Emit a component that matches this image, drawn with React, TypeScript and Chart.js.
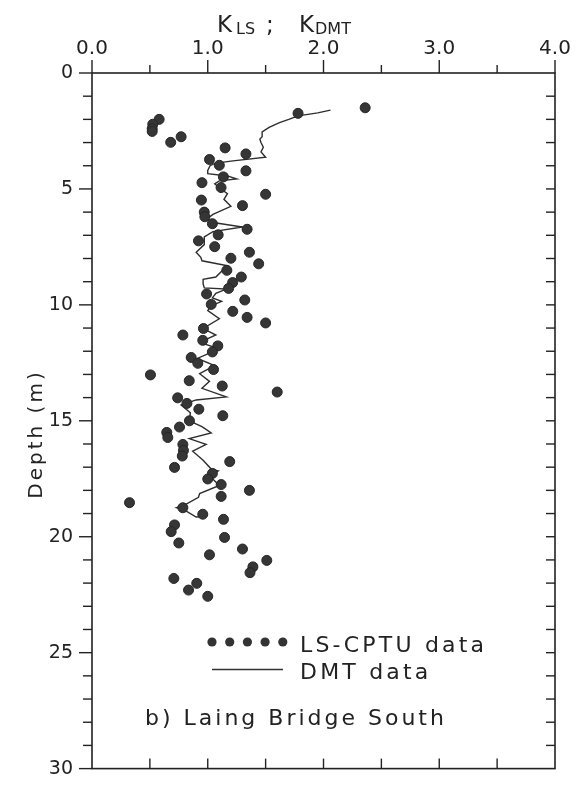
import React, { useEffect, useRef } from 'react';
import { Chart, registerables } from 'chart.js';

Chart.register(...registerables);

// LS-CPTU data: K_LS values and depths (m)
const cptuK = [
  2.36, 1.78, 0.58, 0.525, 0.52, 0.52, 0.77, 0.68, 1.15, 1.33,
  1.015, 1.10, 1.33, 1.135, 0.95, 1.115, 1.50, 0.945, 1.30, 0.97,
  0.975, 1.04, 1.34, 1.09, 0.92, 1.06, 1.36, 1.20, 1.44, 1.165,
  1.29, 1.215, 1.18, 0.99, 1.32, 1.03, 1.216, 1.34, 1.50, 0.963,
  0.785, 0.957, 1.087, 1.04, 0.857, 0.914, 1.05, 0.505, 0.84, 1.125,
  1.60, 0.74, 0.82, 0.923, 1.13, 0.842, 0.756, 0.646, 0.655, 0.785,
  0.79, 0.78, 1.19, 0.713, 1.04, 1.00, 1.116, 1.36, 1.116, 0.324,
  0.785, 0.957, 1.136, 0.713, 0.684, 1.145, 0.75, 1.30, 1.015, 1.51,
  1.39, 1.365, 0.707, 0.905, 0.834, 1.00,
];
const cptuDepth = [
  1.50, 1.74, 2.00, 2.21, 2.40, 2.52, 2.75, 2.99, 3.23, 3.49,
  3.73, 3.98, 4.22, 4.48, 4.73, 4.94, 5.23, 5.48, 5.72, 6.00,
  6.20, 6.50, 6.74, 6.98, 7.24, 7.49, 7.73, 7.99, 8.23, 8.51,
  8.80, 9.04, 9.29, 9.53, 9.79, 9.98, 10.28, 10.54, 10.78, 11.02,
  11.30, 11.53, 11.77, 12.03, 12.27, 12.52, 12.79, 13.02, 13.27, 13.50,
  13.76, 14.01, 14.25, 14.50, 14.78, 15.00, 15.27, 15.50, 15.72, 16.02,
  16.28, 16.52, 16.76, 17.01, 17.27, 17.51, 17.75, 18.00, 18.26, 18.53,
  18.75, 19.03, 19.25, 19.49, 19.78, 20.03, 20.27, 20.53, 20.78, 21.02,
  21.30, 21.55, 21.80, 22.01, 22.30, 22.57,
];

// DMT data: K_DMT values and depths (m)
const dmtK = [
  2.06, 1.95, 1.78, 1.70, 1.62, 1.53, 1.47, 1.47, 1.45, 1.46,
  1.48, 1.46, 1.50, 1.20, 1.06, 1.02, 1.00, 1.00, 1.17, 1.25,
  1.10, 1.06, 1.10, 1.17, 1.14, 1.20, 1.045, 0.99, 1.06, 1.30,
  1.045, 0.97, 0.97, 0.90, 0.94, 0.95, 1.16, 1.12, 1.07, 0.96,
  0.96, 0.97, 1.16, 1.07, 1.04, 1.12, 1.03, 1.00, 1.10, 0.96,
  1.07, 0.93, 1.10, 0.91, 1.06, 0.93, 1.015, 0.95, 1.16, 0.90,
  0.77, 0.85, 0.84, 0.95, 1.03, 0.84, 0.986, 0.87, 0.96, 1.03,
  1.09, 1.015, 1.10, 0.93, 0.92, 0.81, 0.73, 0.80, 0.90, 0.98,
];
const dmtDepth = [
  1.60, 1.72, 1.85, 2.00, 2.14, 2.35, 2.54, 2.75, 2.85, 3.00,
  3.20, 3.40, 3.63, 3.80, 3.90, 4.00, 4.20, 4.34, 4.44, 4.57,
  4.65, 4.78, 4.95, 5.20, 5.45, 5.75, 6.10, 6.30, 6.46, 6.64,
  6.84, 7.07, 7.40, 7.73, 7.95, 8.10, 8.30, 8.55, 8.80, 8.90,
  9.10, 9.27, 9.32, 9.50, 9.70, 9.85, 10.04, 10.25, 10.60, 11.02,
  11.30, 11.62, 11.90, 12.31, 12.62, 12.97, 13.30, 13.60, 13.97, 14.10,
  14.32, 14.65, 15.00, 15.25, 15.52, 15.77, 16.02, 16.31, 16.70, 17.08,
  17.16, 17.37, 17.79, 18.14, 18.30, 18.60, 18.75, 18.85, 19.15, 19.13,
];

const xTickLabels = ['0.0', '1.0', '2.0', '3.0', '4.0'];
const yTickLabels = ['0', '5', '10', '15', '20', '25', '30'];
const seriesNames = ['LS-CPTU data', 'DMT data'];
const yAxisTitle = 'Depth (m)';
const panelTitle = 'b) Laing Bridge South';

const INK = '#222';
const FONT = "'DejaVu Sans', sans-serif";

const decorPlugin = {
  id: 'decor',
  afterDraw(chart: any) {
    const { ctx, chartArea: a, scales } = chart;
    const x = scales.x;
    const y = scales.y;
    ctx.save();
    ctx.strokeStyle = INK;
    ctx.lineWidth = 1.6;
    ctx.lineCap = 'butt';
    ctx.strokeRect(a.left, a.top, a.right - a.left, a.bottom - a.top);
    const seg = (x1: number, y1: number, x2: number, y2: number) => {
      ctx.beginPath();
      ctx.moveTo(x1, y1);
      ctx.lineTo(x2, y2);
      ctx.stroke();
    };
    ctx.lineWidth = 1.4;
    x.ticks.forEach((t: any) => {
      const px = x.getPixelForValue(t.value);
      const major = Math.abs(t.value - Math.round(t.value)) < 1e-6;
      seg(px, a.top, px, a.top - (major ? 13 : 8));
      if (t.value > 0.01 && t.value < x.max - 0.01) seg(px, a.bottom, px, a.bottom - 10);
    });
    y.ticks.forEach((t: any) => {
      const py = y.getPixelForValue(t.value);
      const major = Math.round(t.value) % 5 === 0;
      seg(a.left, py, a.left - (major ? 13 : 9), py);
      if (t.value > 0.01 && t.value < y.max - 0.01) seg(a.right, py, a.right - 9, py);
    });

    ctx.fillStyle = INK;
    ctx.textBaseline = 'alphabetic';
    ctx.textAlign = 'left';

    // top axis title: K_LS ; K_DMT
    const tx = a.left;
    ctx.font = `23px ${FONT}`;
    ctx.fillText('K', tx + 125, 32);
    ctx.fillText(';', tx + 174, 32);
    ctx.fillText('K', tx + 207, 32);
    ctx.font = `16px ${FONT}`;
    ctx.fillText('LS', tx + 144, 33.5);
    ctx.fillText('DMT', tx + 223, 33.5);

    // y axis title
    ctx.save();
    (ctx as any).letterSpacing = '3px';
    ctx.font = `20px ${FONT}`;
    ctx.translate(42, 434);
    ctx.rotate(-Math.PI / 2);
    ctx.textAlign = 'center';
    ctx.fillText(yAxisTitle, 0, 0);
    ctx.restore();

    // legend
    const lx = a.left + 120;
    ctx.fillStyle = '#333';
    for (let i = 0; i < 5; i++) {
      ctx.beginPath();
      ctx.arc(lx + i * 17.7, 642, 4.6, 0, Math.PI * 2);
      ctx.fill();
    }
    ctx.strokeStyle = '#333';
    ctx.lineWidth = 1.3;
    seg(lx, 669.5, lx + 71, 669.5);

    ctx.fillStyle = INK;
    (ctx as any).letterSpacing = '3.2px';
    ctx.font = `22px ${FONT}`;
    ctx.fillText(seriesNames[0], lx + 88, 651.5);
    ctx.fillText(seriesNames[1], lx + 88, 678.5);
    (ctx as any).letterSpacing = '3px';
    ctx.fillText(panelTitle, a.left + 53, 725);
    (ctx as any).letterSpacing = '0px';
    ctx.restore();
  },
};

export default function App() {
  const canvasRef = useRef<HTMLCanvasElement | null>(null);

  useEffect(() => {
    if (!canvasRef.current) return;
    const cptu = cptuK.map((k, i) => ({ x: k, y: cptuDepth[i] }));
    const dmt = dmtK.map((k, i) => ({ x: k, y: dmtDepth[i] }));
    const chart = new Chart(canvasRef.current, {
      type: 'scatter',
      data: {
        datasets: [
          {
            label: seriesNames[0],
            data: cptu,
            pointRadius: 5,
            pointHoverRadius: 5,
            pointBackgroundColor: '#363636',
            pointBorderColor: '#262626',
            pointBorderWidth: 1,
            showLine: false,
          },
          {
            label: seriesNames[1],
            data: dmt,
            showLine: true,
            pointRadius: 0,
            borderColor: '#2e2e2e',
            borderWidth: 1.4,
            tension: 0,
          },
        ],
      },
      options: {
        responsive: false,
        animation: false,
        devicePixelRatio: 1,
        layout: { padding: { left: 0, right: 22, top: 0, bottom: 11 } },
        plugins: {
          legend: { display: false },
          tooltip: { enabled: false },
          title: { display: false },
        },
        scales: {
          x: {
            type: 'linear',
            position: 'top',
            min: 0,
            max: 4,
            afterFit: (s: any) => {
              s.height = 73;
            },
            border: { display: false },
            grid: {
              display: true,
              drawOnChartArea: false,
              drawTicks: true,
              tickLength: 8,
              tickColor: 'rgba(0,0,0,0)',
            },
            ticks: {
              stepSize: 0.5,
              autoSkip: false,
              maxRotation: 0,
              padding: 4,
              color: INK,
              font: { family: FONT, size: 20 },
              callback: (v: any) => {
                const n = Number(v);
                return Math.abs(n - Math.round(n)) < 1e-6 ? xTickLabels[Math.round(n)] : '';
              },
            },
          },
          y: {
            type: 'linear',
            position: 'left',
            reverse: true,
            min: 0,
            max: 30,
            afterFit: (s: any) => {
              s.width = 92;
            },
            border: { display: false },
            grid: {
              display: true,
              drawOnChartArea: false,
              drawTicks: true,
              tickLength: 9,
              tickColor: 'rgba(0,0,0,0)',
            },
            ticks: {
              stepSize: 1,
              autoSkip: false,
              padding: 10,
              color: INK,
              font: { family: FONT, size: 19 },
              callback: (v: any) => {
                const n = Math.round(Number(v));
                return n % 5 === 0 ? yTickLabels[n / 5] : '';
              },
            },
          },
        },
      },
      plugins: [decorPlugin],
    });
    return () => chart.destroy();
  }, []);

  return (
    <div style={{ position: 'fixed', left: 0, top: 0, width: 577, height: 790, background: '#fff' }}>
      <canvas ref={canvasRef} width={577} height={790} style={{ display: 'block', width: 577, height: 790 }} />
    </div>
  );
}
